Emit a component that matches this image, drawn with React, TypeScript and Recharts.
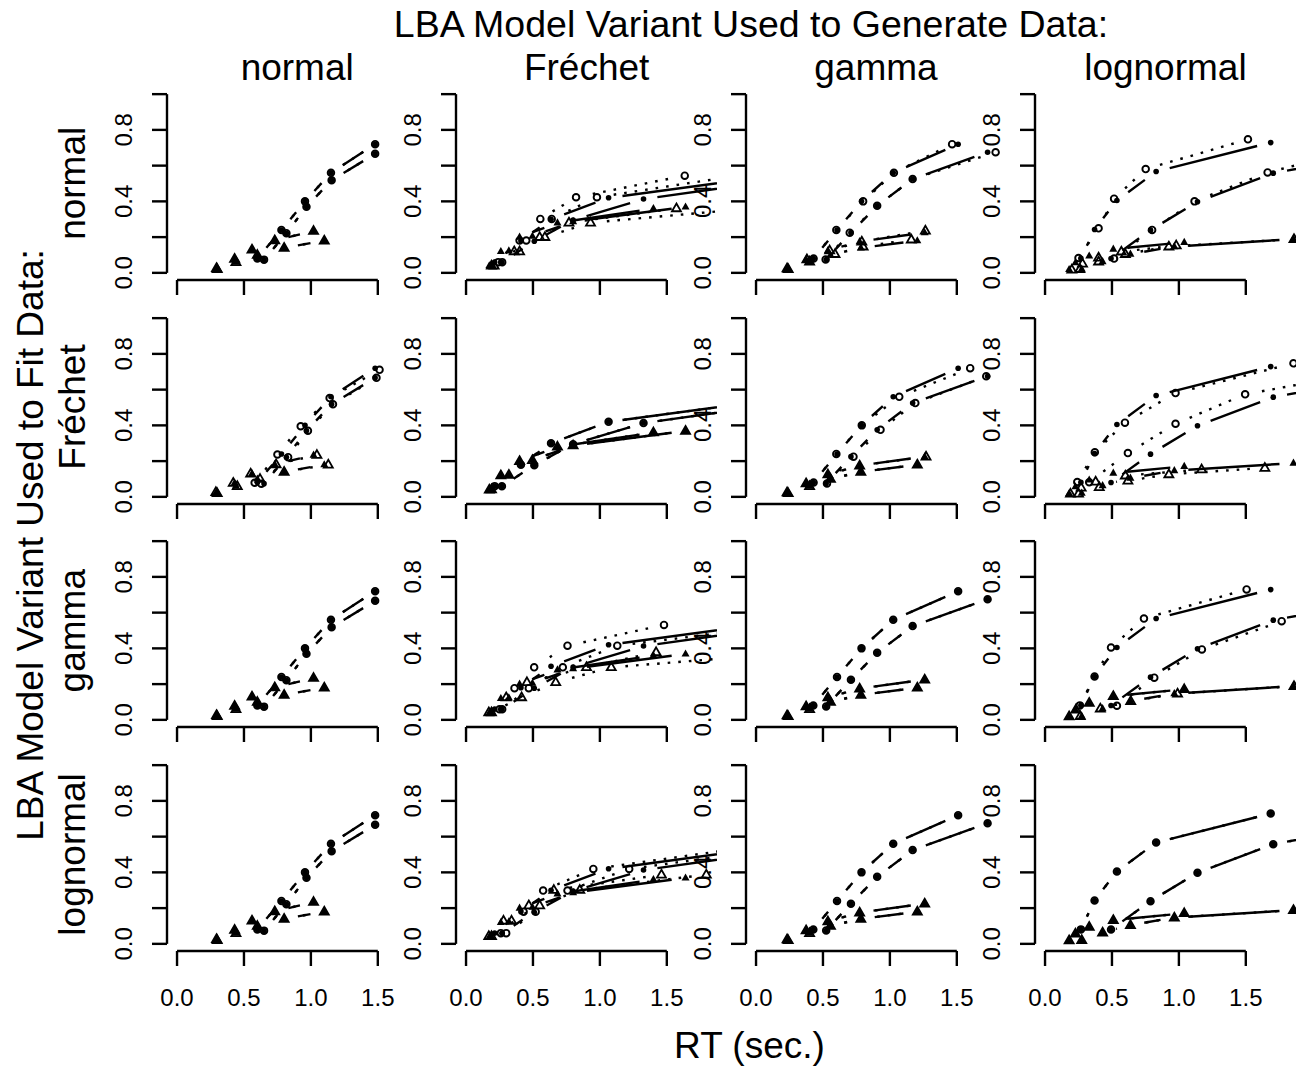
import React from 'react'
import { ComposedChart, Line, ReferenceLine, XAxis, YAxis } from 'recharts'

type Curve = { rt: number[]; p: number[] }
type CurveSet = { corrA: Curve; corrB: Curve; errA: Curve; errB: Curve }

// column = model that generated the data, row = model fitted to it
const generators = ['normal', 'Fréchet', 'gamma', 'lognormal']
const fitted = ['normal', 'Fréchet', 'gamma', 'lognormal']

const xTicks = [0, 0.5, 1, 1.5]
const xTickLabels = ['0.0', '0.5', '1.0', '1.5']
const yTicks = [0, 0.2, 0.4, 0.6, 0.8, 1]
const yTickLabels = ['0.0', '', '0.4', '', '0.8', '']

// observed quantiles (RT, cumulative probability), one set per generating model
const obsNormal: CurveSet = {
  corrA: { rt: [0.6, 0.78, 0.956, 1.15, 1.48], p: [0.08, 0.24, 0.4, 0.56, 0.72] },
  corrB: { rt: [0.65, 0.817, 0.967, 1.155, 1.48], p: [0.074, 0.222, 0.37, 0.518, 0.666] },
  errA: { rt: [0.3, 0.44, 0.6, 0.8, 1.1], p: [0.02, 0.06, 0.1, 0.14, 0.18] },
  errB: { rt: [0.295, 0.43, 0.56, 0.73, 1.02], p: [0.026, 0.078, 0.13, 0.182, 0.234] },
}
const obsFrechet: CurveSet = {
  corrA: { rt: [0.214, 0.41, 0.635, 1.065, 2.26], p: [0.06, 0.18, 0.3, 0.42, 0.54] },
  corrB: { rt: [0.268, 0.51, 0.8, 1.326, 2.45], p: [0.059, 0.177, 0.295, 0.413, 0.531] },
  errA: { rt: [0.174, 0.26, 0.4, 0.683, 1.4], p: [0.04, 0.12, 0.2, 0.28, 0.36] },
  errB: { rt: [0.19, 0.32, 0.496, 0.8, 1.64], p: [0.041, 0.123, 0.205, 0.287, 0.369] },
}
const obsGamma: CurveSet = {
  corrA: { rt: [0.428, 0.605, 0.788, 1.025, 1.51], p: [0.08, 0.24, 0.4, 0.56, 0.72] },
  corrB: { rt: [0.524, 0.709, 0.905, 1.17, 1.73], p: [0.075, 0.225, 0.375, 0.525, 0.675] },
  errA: { rt: [0.24, 0.4, 0.556, 0.783, 1.205], p: [0.02, 0.06, 0.1, 0.14, 0.18] },
  errB: { rt: [0.232, 0.374, 0.537, 0.774, 1.26], p: [0.025, 0.075, 0.125, 0.175, 0.225] },
}
const obsLognormal: CurveSet = {
  corrA: { rt: [0.268, 0.37, 0.537, 0.83, 1.686], p: [0.081, 0.243, 0.405, 0.567, 0.729] },
  corrB: { rt: [0.493, 0.788, 1.139, 1.705, 2.9], p: [0.08, 0.239, 0.398, 0.558, 0.717] },
  errA: { rt: [0.18, 0.227, 0.33, 0.51, 1.04], p: [0.019, 0.057, 0.095, 0.133, 0.171] },
  errB: { rt: [0.274, 0.43, 0.638, 0.966, 1.856], p: [0.021, 0.063, 0.105, 0.147, 0.189] },
}

// model predictions where they visibly differ from the data
const fitFrechetOnNormal: CurveSet = {
  corrA: { rt: [0.58, 0.75, 0.924, 1.14, 1.513], p: [0.079, 0.237, 0.395, 0.553, 0.711] },
  corrB: { rt: [0.63, 0.83, 0.978, 1.165, 1.49], p: [0.074, 0.222, 0.37, 0.518, 0.666] },
  errA: { rt: [0.3, 0.45, 0.62, 0.8, 1.13], p: [0.02, 0.06, 0.1, 0.14, 0.18] },
  errB: { rt: [0.29, 0.42, 0.55, 0.74, 1.045], p: [0.026, 0.078, 0.13, 0.182, 0.234] },
}
const fitNormalOnFrechet: CurveSet = {
  corrA: { rt: [0.24, 0.4, 0.555, 0.822, 1.634], p: [0.06, 0.181, 0.302, 0.423, 0.544] },
  corrB: { rt: [0.27, 0.45, 0.64, 0.978, 2.03], p: [0.06, 0.181, 0.302, 0.423, 0.544] },
  errA: { rt: [0.19, 0.36, 0.55, 0.769, 1.572], p: [0.04, 0.12, 0.2, 0.281, 0.361] },
  errB: { rt: [0.21, 0.4, 0.589, 0.93, 2.14], p: [0.04, 0.12, 0.2, 0.281, 0.361] },
}
const fitGammaOnFrechet: CurveSet = {
  corrA: { rt: [0.25, 0.362, 0.509, 0.758, 1.479], p: [0.059, 0.177, 0.294, 0.415, 0.531] },
  corrB: { rt: [0.27, 0.469, 0.723, 1.13, 2.4], p: [0.059, 0.177, 0.294, 0.415, 0.531] },
  errA: { rt: [0.17, 0.3, 0.455, 0.9, 1.42], p: [0.042, 0.126, 0.21, 0.294, 0.378] },
  errB: { rt: [0.19, 0.415, 0.67, 1.085, 2.5], p: [0.042, 0.126, 0.21, 0.294, 0.378] },
}
const fitLognormalOnFrechet: CurveSet = {
  corrA: { rt: [0.26, 0.43, 0.576, 0.951, 2.1], p: [0.06, 0.18, 0.298, 0.419, 0.54] },
  corrB: { rt: [0.3, 0.52, 0.758, 1.219, 2.4], p: [0.06, 0.18, 0.298, 0.419, 0.54] },
  errA: { rt: [0.17, 0.28, 0.469, 0.656, 1.46], p: [0.043, 0.129, 0.215, 0.301, 0.387] },
  errB: { rt: [0.19, 0.34, 0.55, 0.85, 1.795], p: [0.043, 0.129, 0.215, 0.301, 0.387] },
}
const fitNormalOnGamma: CurveSet = {
  corrA: { rt: [0.43, 0.6, 0.8, 1.03, 1.465], p: [0.08, 0.24, 0.4, 0.56, 0.72] },
  corrB: { rt: [0.52, 0.7, 0.905, 1.17, 1.79], p: [0.075, 0.225, 0.375, 0.525, 0.675] },
  errA: { rt: [0.24, 0.4, 0.59, 0.8, 1.16], p: [0.021, 0.063, 0.105, 0.147, 0.186] },
  errB: { rt: [0.232, 0.38, 0.55, 0.79, 1.265], p: [0.025, 0.075, 0.125, 0.175, 0.236] },
}
const fitFrechetOnGamma: CurveSet = {
  corrA: { rt: [0.43, 0.6, 0.79, 1.07, 1.6], p: [0.08, 0.24, 0.4, 0.56, 0.72] },
  corrB: { rt: [0.53, 0.728, 0.93, 1.19, 1.72], p: [0.075, 0.225, 0.375, 0.525, 0.675] },
  errA: { rt: [0.24, 0.4, 0.556, 0.783, 1.205], p: [0.02, 0.06, 0.1, 0.14, 0.18] },
  errB: { rt: [0.232, 0.374, 0.537, 0.774, 1.27], p: [0.025, 0.075, 0.125, 0.175, 0.225] },
}
const fitNormalOnLognormal: CurveSet = {
  corrA: { rt: [0.25, 0.4, 0.516, 0.752, 1.516], p: [0.083, 0.249, 0.415, 0.581, 0.747] },
  corrB: { rt: [0.516, 0.8, 1.117, 1.663, 2.5], p: [0.08, 0.24, 0.4, 0.562, 0.72] },
  errA: { rt: [0.2, 0.28, 0.4, 0.57, 0.98], p: [0.017, 0.051, 0.085, 0.119, 0.153] },
  errB: { rt: [0.26, 0.4, 0.6, 0.925, 1.86], p: [0.021, 0.063, 0.105, 0.147, 0.189] },
}
const fitFrechetOnLognormal: CurveSet = {
  corrA: { rt: [0.241, 0.372, 0.597, 0.975, 1.856], p: [0.083, 0.249, 0.415, 0.581, 0.747] },
  corrB: { rt: [0.33, 0.619, 0.975, 1.495, 2.7], p: [0.082, 0.245, 0.409, 0.574, 0.738] },
  errA: { rt: [0.19, 0.27, 0.378, 0.6, 1.17], p: [0.017, 0.051, 0.085, 0.119, 0.153] },
  errB: { rt: [0.25, 0.405, 0.619, 0.925, 1.642], p: [0.018, 0.054, 0.09, 0.126, 0.162] },
}
const fitGammaOnLognormal: CurveSet = {
  corrA: { rt: [0.26, 0.37, 0.493, 0.739, 1.506], p: [0.081, 0.243, 0.405, 0.567, 0.73] },
  corrB: { rt: [0.537, 0.816, 1.172, 1.768, 2.7], p: [0.079, 0.236, 0.394, 0.552, 0.71] },
  errA: { rt: [0.18, 0.23, 0.33, 0.51, 1.04], p: [0.019, 0.057, 0.095, 0.133, 0.171] },
  errB: { rt: [0.263, 0.413, 0.64, 0.99, 1.86], p: [0.021, 0.063, 0.105, 0.147, 0.189] },
}

const observed = [obsNormal, obsFrechet, obsGamma, obsLognormal]
const fitGrid: CurveSet[][] = [
  [obsNormal, fitNormalOnFrechet, fitNormalOnGamma, fitNormalOnLognormal],
  [fitFrechetOnNormal, obsFrechet, fitFrechetOnGamma, fitFrechetOnLognormal],
  [obsNormal, fitGammaOnFrechet, obsGamma, fitGammaOnLognormal],
  [obsNormal, fitLognormalOnFrechet, obsGamma, obsLognormal],
]

// layout
const X_DOMAIN: [number, number] = [-0.075, 1.875]
const Y_DOMAIN: [number, number] = [-0.04, 1.04]
const PLOT_W = 261
const PLOT_H = 193
const AXIS_W = 60
const AXIS_H = 70
const PAD_T = 10
const PAD_R = 10
const CHART_W = AXIS_W + PLOT_W + PAD_R
const CHART_H = PAD_T + PLOT_H + AXIS_H
const COL_X0 = 166.7
const COL_STEP = 289.4
const ROW_Y0 = 86.8
const ROW_STEP = 223.7
const FONT = '"Liberation Sans", Arial, Helvetica, sans-serif'
const LW = 2.4

const SX = PLOT_W / (X_DOMAIN[1] - X_DOMAIN[0])
const SY = PLOT_H / (Y_DOMAIN[1] - Y_DOMAIN[0])
const GAP = 14
const DOT_ON = 2.6
const DOT_OFF = 8

// R type="b" style: segments stop short of each point
function gapDash(c: Curve, dotted: boolean): string {
  const parts: number[] = []
  const push = (isOn: boolean, len: number) => {
    if (len <= 0) return
    if (parts.length === 0) {
      if (!isOn) parts.push(0)
      parts.push(len)
      return
    }
    const lastOn = parts.length % 2 === 1
    if (lastOn === isOn) parts[parts.length - 1] += len
    else parts.push(len)
  }
  for (let i = 0; i < c.rt.length - 1; i++) {
    const L = Math.hypot((c.rt[i + 1] - c.rt[i]) * SX, (c.p[i + 1] - c.p[i]) * SY)
    const v = L - 2 * GAP
    if (v <= 0) {
      push(false, L)
      continue
    }
    push(false, GAP)
    if (!dotted) push(true, v)
    else {
      const k = Math.floor((v + DOT_OFF) / (DOT_ON + DOT_OFF))
      if (k < 1) push(false, v)
      else {
        const lead = (v - k * DOT_ON - (k - 1) * DOT_OFF) / 2
        push(false, lead)
        for (let j = 0; j < k; j++) {
          push(true, DOT_ON)
          if (j < k - 1) push(false, DOT_OFF)
        }
        push(false, lead)
      }
    }
    push(false, GAP)
  }
  return parts.join(' ')
}

type Kind = 'openCircle' | 'dot' | 'openTri' | 'tri'

const Marker = ({ cx, cy, kind }: { cx: number; cy: number; kind: Kind }) => {
  if (kind === 'openCircle')
    return <circle cx={cx} cy={cy} r={3.3} fill="none" stroke="#000" strokeWidth={1.9} />
  if (kind === 'dot') return <circle cx={cx} cy={cy} r={2.8} fill="#000" />
  if (kind === 'openTri')
    return (
      <polygon
        points={`${cx},${cy - 4.9} ${cx + 4.5},${cy + 2.9} ${cx - 4.5},${cy + 2.9}`}
        fill="none"
        stroke="#000"
        strokeWidth={1.8}
      />
    )
  return <polygon points={`${cx},${cy - 4.5} ${cx + 4},${cy + 2.6} ${cx - 4},${cy + 2.6}`} fill="#000" />
}

const dotOf = (kind: Kind) => (props: any) => {
  const { cx, cy, index } = props
  if (cx == null || cy == null) return <g key={`m${index}`} />
  return <Marker key={`m${index}`} cx={cx} cy={cy} kind={kind} />
}

const toPoints = (c: Curve) => c.rt.map((x, i) => ({ x, y: c.p[i] }))

const curveKeys = ['corrA', 'corrB', 'errA', 'errB'] as const

const Panel = ({ row, col }: { row: number; col: number }) => {
  const obs = observed[col]
  const fit = fitGrid[row][col]
  const left = COL_X0 + COL_STEP * col - AXIS_W
  const top = ROW_Y0 + ROW_STEP * row - PAD_T

  const xTick = (props: any) => {
    if (row !== 3) return <g />
    const i = xTicks.indexOf(props.payload.value)
    return (
      <text x={props.x} y={PAD_T + PLOT_H + 55} textAnchor="middle" fontSize={24} fontFamily={FONT} fill="#000">
        {xTickLabels[i]}
      </text>
    )
  }
  const yTick = (props: any) => {
    const i = yTicks.indexOf(props.payload.value)
    const label = yTickLabels[i]
    if (!label) return <g />
    const lx = AXIS_W - 34.7
    return (
      <text
        x={lx}
        y={props.y}
        transform={`rotate(-90, ${lx}, ${props.y})`}
        textAnchor="middle"
        fontSize={24}
        fontFamily={FONT}
        fill="#000"
      >
        {label}
      </text>
    )
  }

  return (
    <div style={{ position: 'absolute', left, top }}>
      <ComposedChart width={CHART_W} height={CHART_H} margin={{ top: PAD_T, right: PAD_R, bottom: 0, left: 0 }}>
        <XAxis
          type="number"
          dataKey="x"
          domain={X_DOMAIN}
          allowDataOverflow
          ticks={xTicks}
          interval={0}
          height={AXIS_H}
          tickSize={15}
          axisLine={false}
          stroke="#000"
          tickLine={{ stroke: '#000', strokeWidth: LW }}
          tick={xTick}
        />
        <YAxis
          type="number"
          domain={Y_DOMAIN}
          allowDataOverflow
          ticks={yTicks}
          interval={0}
          width={AXIS_W}
          tickSize={15}
          axisLine={false}
          stroke="#000"
          tickLine={{ stroke: '#000', strokeWidth: LW }}
          tick={yTick}
        />
        <ReferenceLine
          segment={[
            { x: xTicks[0], y: Y_DOMAIN[0] },
            { x: xTicks[xTicks.length - 1], y: Y_DOMAIN[0] },
          ]}
          stroke="#000"
          strokeWidth={LW}
          ifOverflow="visible"
        />
        <ReferenceLine
          segment={[
            { x: X_DOMAIN[0], y: yTicks[0] },
            { x: X_DOMAIN[0], y: yTicks[yTicks.length - 1] },
          ]}
          stroke="#000"
          strokeWidth={LW}
          ifOverflow="visible"
        />
        {curveKeys.map((k) => (
          <Line
            key={`fit-${k}`}
            data={toPoints(fit[k])}
            dataKey="y"
            type="linear"
            stroke="#000"
            strokeWidth={LW}
            strokeDasharray={gapDash(fit[k], true)}
            dot={dotOf(k.startsWith('corr') ? 'openCircle' : 'openTri')}
            activeDot={false}
            isAnimationActive={false}
          />
        ))}
        {curveKeys.map((k) => (
          <Line
            key={`obs-${k}`}
            data={toPoints(obs[k])}
            dataKey="y"
            type="linear"
            stroke="#000"
            strokeWidth={LW}
            strokeDasharray={gapDash(obs[k], false)}
            dot={dotOf(k.startsWith('corr') ? 'dot' : 'tri')}
            activeDot={false}
            isAnimationActive={false}
          />
        ))}
      </ComposedChart>
    </div>
  )
}

export default function App() {
  const plotCx = (c: number) => COL_X0 + COL_STEP * c + PLOT_W / 2
  const plotCy = (r: number) => ROW_Y0 + ROW_STEP * r + PLOT_H / 2
  return (
    <div
      style={{
        position: 'absolute',
        left: 0,
        top: 0,
        width: 1304,
        height: 1074,
        overflow: 'hidden',
        background: '#fff',
      }}
    >
      <svg width={1304} height={1074} style={{ position: 'absolute', left: 0, top: 0 }}>
        <g fontFamily={FONT} fontSize={37} fill="#000">
          <text x={751} y={36.7} textAnchor="middle" fontSize={37.5}>
            LBA Model Variant Used to Generate Data:
          </text>
          {generators.map((g, c) => (
            <text key={g} x={plotCx(c)} y={80} textAnchor="middle">
              {g}
            </text>
          ))}
          {fitted.map((f, r) => (
            <text key={f} x={85} y={plotCy(r)} transform={`rotate(-90, 85, ${plotCy(r)})`} textAnchor="middle">
              {f}
            </text>
          ))}
          <text x={43} y={545} transform="rotate(-90, 43, 545)" textAnchor="middle">
            LBA Model Variant Used to Fit Data:
          </text>
          <text x={749.5} y={1058} textAnchor="middle">
            RT (sec.)
          </text>
        </g>
      </svg>
      {fitted.map((_, r) => generators.map((_, c) => <Panel key={`${r}-${c}`} row={r} col={c} />))}
    </div>
  )
}
